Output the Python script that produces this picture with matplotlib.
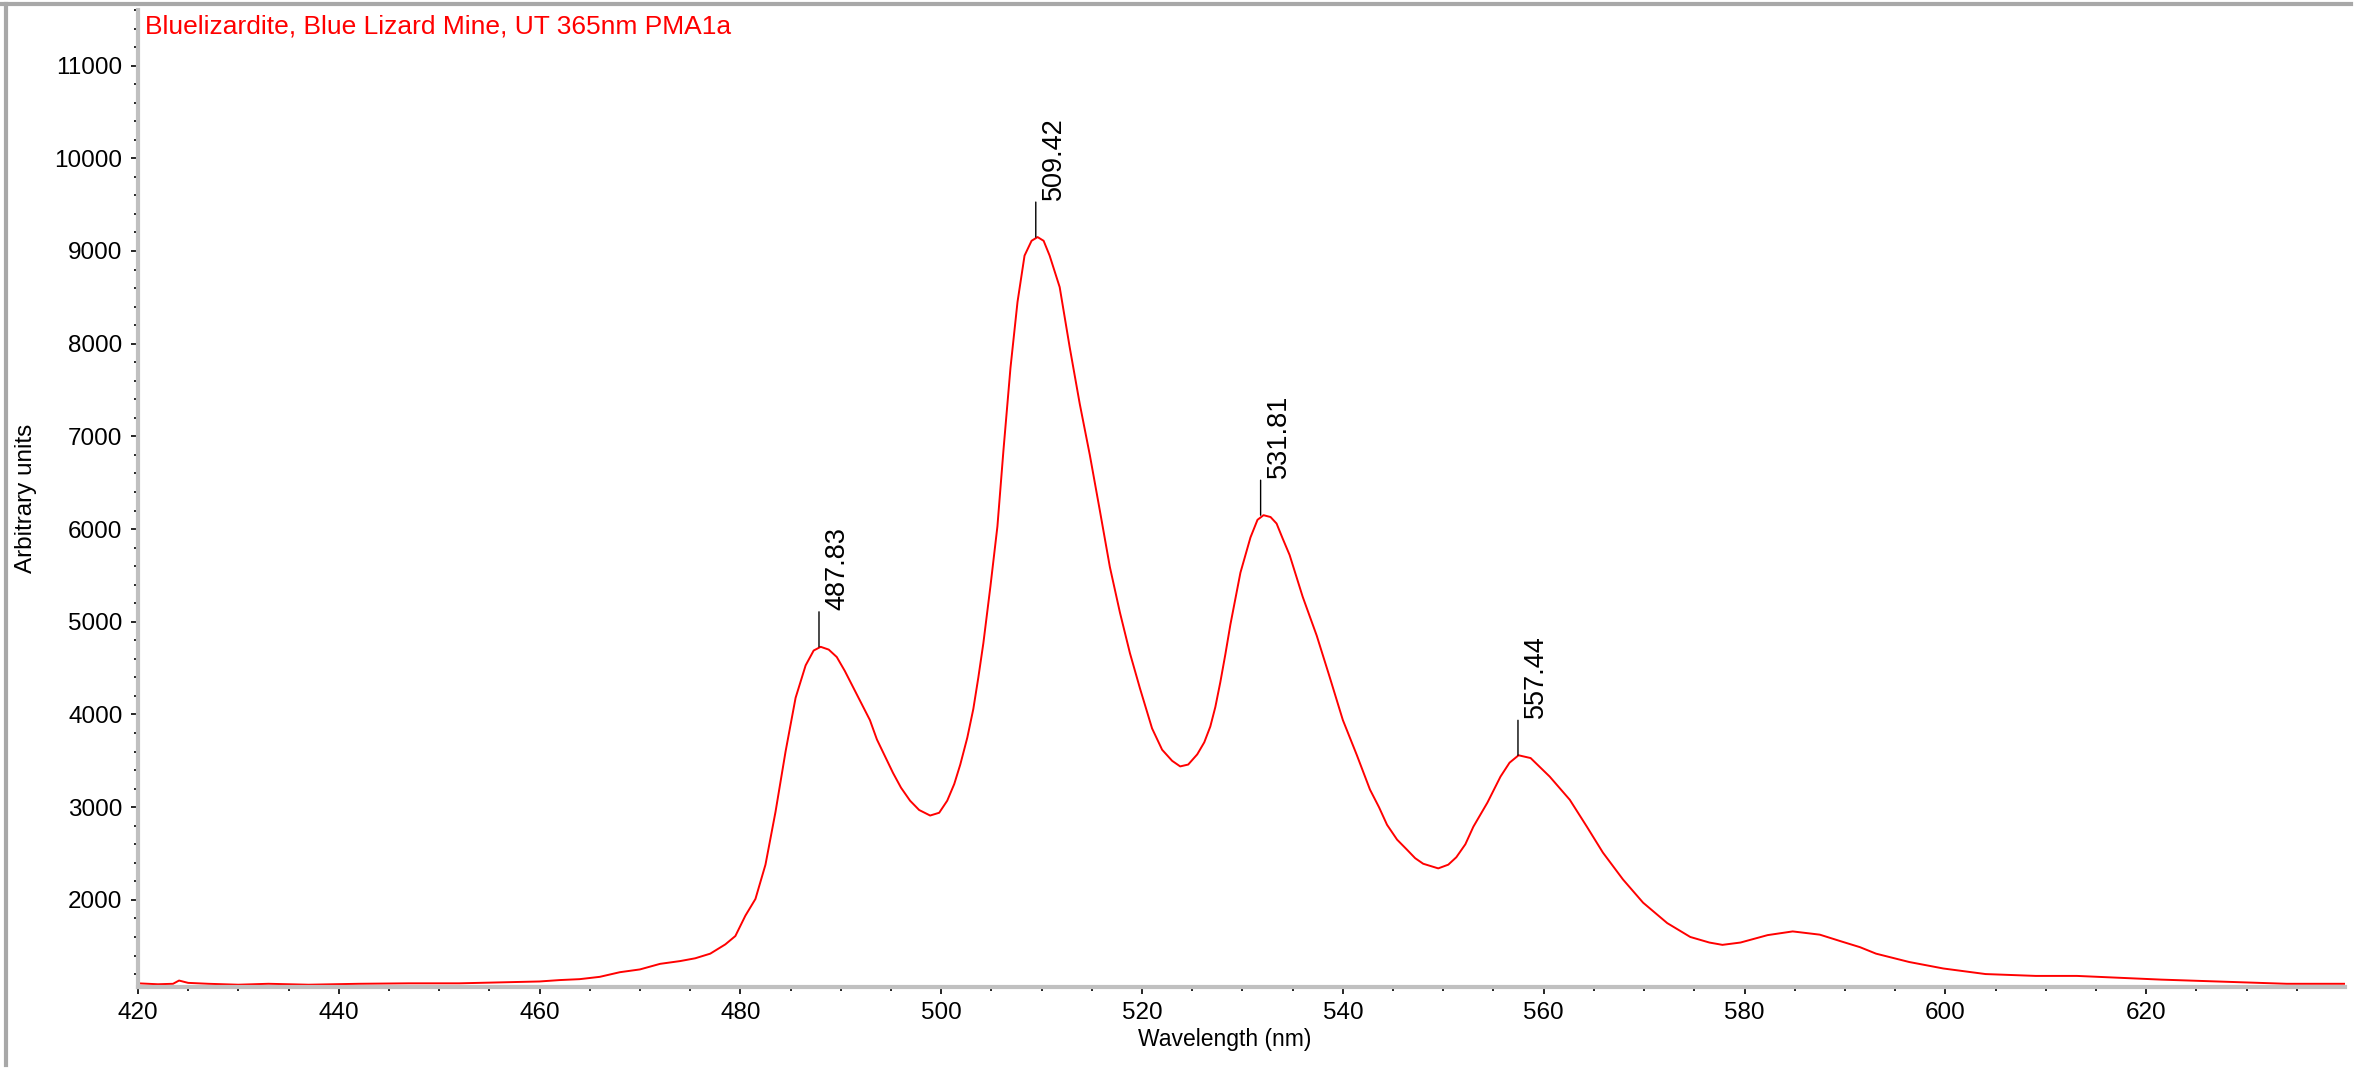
import matplotlib
matplotlib.use('Agg')
import matplotlib.pyplot as plt
from matplotlib.ticker import MultipleLocator
from matplotlib.lines import Line2D

plt.rcParams['font.family'] = ['Liberation Sans', 'DejaVu Sans']

# spectrum (wavelength nm, arbitrary units)
wavelength = [420.0, 422.0, 423.5, 424.1, 425.0, 427.0, 430.0, 433.0, 437.0, 442.0,
              447.0, 452.0, 456.0, 460.0, 462.0, 464.0, 466.0, 468.0, 470.0, 472.0,
              474.0, 475.5, 477.0, 478.5, 479.5, 480.5, 481.5, 482.5, 483.5, 484.5,
              485.5, 486.5, 487.3, 488.0, 488.8, 489.6, 490.4, 491.2, 492.0, 492.9,
              493.6, 494.4, 495.2, 496.0, 496.9, 497.8, 498.9, 499.8, 500.6, 501.3,
              501.9, 502.6, 503.2, 503.7, 504.2, 504.9, 505.6, 506.2, 506.9, 507.6,
              508.3, 509.0, 509.6, 510.2, 510.8, 511.8, 512.8, 513.8, 514.8, 515.8,
              516.8, 517.8, 518.8, 519.8, 521.0, 522.0, 523.0, 523.8, 524.6, 525.5,
              526.2, 526.8, 527.3, 527.8, 528.3, 528.8, 529.8, 530.8, 531.5, 532.1,
              532.8, 533.4, 534.0, 534.7, 536.0, 537.4, 538.7, 540.0, 541.4, 542.7,
              543.6, 544.4, 545.4, 546.4, 547.2, 548.0, 549.5, 550.5, 551.3, 552.2,
              553.0, 554.4, 555.7, 556.6, 557.5, 558.7, 560.6, 562.6, 564.3, 565.9,
              567.9, 569.9, 572.3, 574.6, 576.5, 577.8, 579.6, 582.3, 584.8, 587.5,
              589.7, 591.5, 593.1, 596.4, 599.8, 604.0, 609.0, 613.1, 617.3, 621.5,
              625.7, 629.9, 634.0, 639.8]
intensity = [1100, 1090, 1095, 1130, 1105, 1095, 1085, 1095, 1085, 1095,
             1100, 1100, 1110, 1120, 1135, 1145, 1170, 1220, 1250, 1310,
             1340, 1370, 1420, 1520, 1610, 1830, 2010, 2380, 2950, 3600,
             4180, 4530, 4690, 4730, 4700, 4620, 4470, 4300, 4130, 3940,
             3730, 3550, 3370, 3210, 3070, 2970, 2910, 2940, 3070, 3250,
             3460, 3750, 4060, 4400, 4770, 5380, 6030, 6850, 7740, 8450,
             8950, 9110, 9150, 9110, 8950, 8610, 7960, 7350, 6800, 6200,
             5590, 5100, 4660, 4280, 3850, 3620, 3500, 3440, 3460, 3570,
             3700, 3870, 4080, 4350, 4650, 4970, 5530, 5910, 6100, 6150,
             6130, 6060, 5900, 5720, 5270, 4850, 4400, 3940, 3560, 3190,
             3000, 2810, 2650, 2540, 2450, 2390, 2340, 2380, 2460, 2600,
             2790, 3050, 3330, 3480, 3560, 3530, 3330, 3080, 2790, 2510,
             2220, 1970, 1750, 1600, 1540, 1515, 1540, 1620, 1660, 1625,
             1550, 1490, 1420, 1330, 1260, 1200, 1180, 1180, 1160, 1140,
             1125, 1110, 1095, 1095]

peak_wl = [487.83, 509.42, 531.81, 557.44]
peak_val = [4730, 9150, 6150, 3560]
peak_labels = ['487.83', '509.42', '531.81', '557.44']

title = 'Bluelizardite, Blue Lizard Mine, UT 365nm PMA1a'

fig = plt.figure(figsize=(23.57, 10.71), dpi=100)
ax = fig.add_axes([0.0585, 0.0784, 0.9364, 0.9123])

ax.plot(wavelength, intensity, color='#ff0000', lw=1.4)

for wl, val, lab in zip(peak_wl, peak_val, peak_labels):
    ax.annotate('', xy=(wl, val), xytext=(0, 35), textcoords='offset pixels',
                arrowprops=dict(arrowstyle='-', color='black', lw=1,
                                shrinkA=0, shrinkB=0))
    ax.annotate(lab, xy=(wl, val), xytext=(5, 37), textcoords='offset pixels',
                rotation=90, ha='left', va='bottom', fontsize=19.5, color='black')

ax.set_xlim(420, 639.8)
ax.set_ylim(1060, 11600)
ax.xaxis.set_major_locator(MultipleLocator(20))
ax.xaxis.set_minor_locator(MultipleLocator(5))
ax.yaxis.set_major_locator(MultipleLocator(1000))
ax.yaxis.set_minor_locator(MultipleLocator(200))

for s in ['top', 'right']:
    ax.spines[s].set_visible(False)
for s in ['left', 'bottom']:
    ax.spines[s].set_color('#c0c0c0')
    ax.spines[s].set_linewidth(3)

ax.tick_params(which='major', direction='out', length=5, width=1.2,
               color='black', labelsize=17.5, pad=6)
ax.tick_params(which='minor', direction='out', length=3, width=1.2, color='black')

ax.set_xlabel('Wavelength (nm)', fontsize=16.5)
ax.set_ylabel('Arbitrary units', fontsize=17.5)
ax.xaxis.set_label_coords(0.4925, -0.042)
ax.yaxis.set_label_coords(-0.0458, 0.5)

fig.text(0.0615, 0.9748, title, color='#ff0000', fontsize=19, va='center', ha='left')

# window frame lines
fig.add_artist(Line2D([0, 0.9975], [0.996, 0.996], color='#a8a8a8', lw=3,
                      transform=fig.transFigure))
fig.add_artist(Line2D([0.0025, 0.0025], [0.006, 0.996], color='#a8a8a8', lw=3,
                      transform=fig.transFigure))

fig.savefig('out.png', dpi=100)
